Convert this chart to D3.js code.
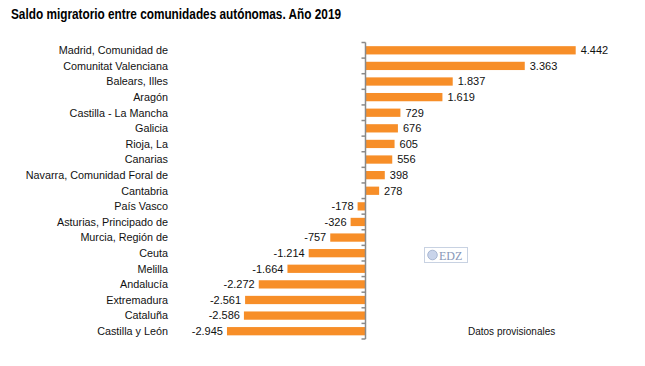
<!DOCTYPE html>
<html><head><meta charset="utf-8">
<script src="https://cdn.jsdelivr.net/npm/d3@7"></script>
<style>
body{margin:0;background:#fff;}
text{font-family:"Liberation Sans",Arial,sans-serif;}
</style></head>
<body><svg id="c" width="645" height="366"></svg>
<script>
const categories = ["Madrid, Comunidad de","Comunitat Valenciana","Balears, Illes","Aragón","Castilla - La Mancha","Galicia","Rioja, La","Canarias","Navarra, Comunidad Foral de","Cantabria","País Vasco","Asturias, Principado de","Murcia, Región de","Ceuta","Melilla","Andalucía","Extremadura","Cataluña","Castilla y León"];
const values = [4442,3363,1837,1619,729,676,605,556,398,278,-178,-326,-757,-1214,-1664,-2272,-2561,-2586,-2945];
const title = "Saldo migratorio entre comunidades autónomas. Año 2019";
const note = "Datos provisionales";

const svg = d3.select("#c");
const loc = d3.formatLocale({decimal:",",thousands:".",grouping:[3],currency:["","€"],minus:"-"});
const fmt = loc.format(",d");

const x = d3.scaleLinear().domain([0,4442]).range([366,575.7]);
const y = d3.scaleBand().domain(categories).range([42.5,339]).paddingInner(0.47).paddingOuter(0.235);

svg.append("text").attr("x",11).attr("y",18.5).attr("font-size",14.5).attr("font-weight","bold").attr("fill","#000")
  .attr("textLength",330).attr("lengthAdjust","spacingAndGlyphs").text(title);

svg.selectAll("rect.bar").data(values).join("rect").attr("class","bar")
  .attr("x",d=>Math.min(x(d),x(0))).attr("width",d=>Math.abs(x(d)-x(0)))
  .attr("y",(d,i)=>y(categories[i])).attr("height",y.bandwidth())
  .attr("fill","#F78E28");

// axis
const ax = svg.append("g").attr("transform",`translate(${x(0)-0.5},0)`);
ax.append("line").attr("x1",0).attr("x2",0).attr("y1",42.5).attr("y2",339).attr("stroke","#8a8a8a").attr("stroke-width",1.5);
const bounds = d3.range(categories.length+1).map(i=>42.5+i*y.step());
ax.selectAll("line.tk").data(bounds).join("line").attr("class","tk")
  .attr("x1",-4).attr("x2",0).attr("y1",d=>d).attr("y2",d=>d).attr("stroke","#8a8a8a").attr("stroke-width",1.5);

// category labels
svg.selectAll("text.cat").data(categories).join("text").attr("class","cat")
  .attr("x",168).attr("y",d=>y(d)+y.bandwidth()/2).attr("dy","0.35em")
  .attr("text-anchor","end").attr("font-size",10.8).attr("fill","#111").text(d=>d);

// value labels
svg.selectAll("text.val").data(values).join("text").attr("class","val")
  .attr("x",d=>d>=0?x(d)+5:x(d)-4).attr("y",(d,i)=>y(categories[i])+y.bandwidth()/2).attr("dy","0.35em")
  .attr("text-anchor",d=>d>=0?"start":"end").attr("font-size",11).attr("fill","#111").text(d=>fmt(d));

// logo
const lg = svg.append("g").attr("transform","translate(424,247)");
lg.append("rect").attr("x",0.5).attr("y",0.5).attr("width",43).attr("height",15).attr("fill","#fff").attr("stroke","#c8d2e2");
lg.append("circle").attr("cx",8.5).attr("cy",8).attr("r",4.8).attr("fill","#c9d4ea").attr("stroke","#9aabc9").attr("stroke-width",0.8);
lg.append("text").attr("x",15).attr("y",12.5).style("font-family","'Liberation Serif',serif").attr("font-size",12).attr("fill","#8797b8").text("EDZ");

svg.append("text").attr("x",468).attr("y",335).attr("font-size",10).attr("fill","#111").text(note);
</script></body></html>
